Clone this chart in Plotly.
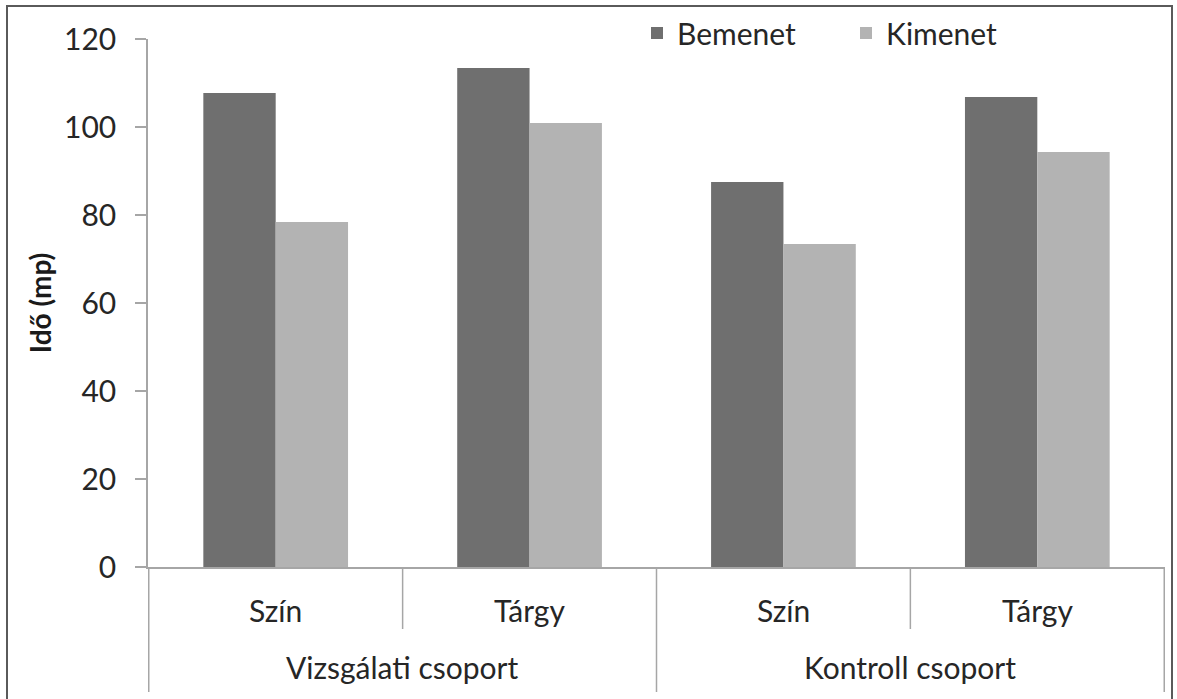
import plotly.graph_objects as go

groups = ["Vizsgálati csoport", "Vizsgálati csoport", "Kontroll csoport", "Kontroll csoport"]
conditions = ["Szín", "Tárgy", "Szín", "Tárgy"]
bemenet = [107.7, 113.4, 87.5, 106.8]
kimenet = [78.4, 100.9, 73.4, 94.3]
y_ticks = [0, 20, 40, 60, 80, 100, 120]
group_names = ["Vizsgálati csoport", "Kontroll csoport"]

FONT = "Lato"
TXT = "#262626"
AX = "#a6a6a6"

fig = go.Figure()
fig.add_trace(go.Bar(name="Bemenet", x=[groups, conditions], y=bemenet,
                     marker=dict(color="#6f6f6f", line=dict(width=0))))
fig.add_trace(go.Bar(name="Kimenet", x=[groups, conditions], y=kimenet,
                     marker=dict(color="#b3b3b3", line=dict(width=0))))

W, H = 1177, 699
L, R, T, B = 148, 12, 39, 132
pw, ph = W - L - R, H - T - B

def px(x):
    return (x - L) / pw

def py(y):
    return (H - B - y) / ph

shapes = []
# inner dividers between conditions within a group
for xi in [0.5, 2.5]:
    shapes.append(dict(type="line", xref="x", yref="paper", x0=xi, x1=xi,
                       y0=0, y1=py(629), line=dict(color=AX, width=1.5)))
# outer dividers between groups (and at both ends)
for xi in [-0.5, 1.5, 3.5]:
    shapes.append(dict(type="line", xref="x", yref="paper", x0=xi, x1=xi,
                       y0=0, y1=py(692), line=dict(color=AX, width=1.5)))
# frame around the figure
shapes.append(dict(type="rect", xref="paper", yref="paper",
                   x0=px(7), x1=px(1172), y0=py(6), y1=py(710),
                   line=dict(color="#5a5a5a", width=2), layer="above"))

annotations = []
for i, c in enumerate(conditions):
    annotations.append(dict(x=i, y=py(610), xref="x", yref="paper", text=c, showarrow=False,
                            xanchor="center", yanchor="middle",
                            font=dict(family=FONT, size=30, color=TXT)))
for i, g in enumerate(group_names):
    annotations.append(dict(x=2 * i + 0.5, y=py(667), xref="x", yref="paper", text=g,
                            showarrow=False, xanchor="center", yanchor="middle",
                            font=dict(family=FONT, size=30, color=TXT)))

fig.update_layout(
    width=W, height=H,
    margin=dict(l=L, r=R, t=T, b=B, autoexpand=False),
    paper_bgcolor="white", plot_bgcolor="white",
    font=dict(family=FONT, size=30, color=TXT),
    barmode="group", bargap=0.43, bargroupgap=0,
    showlegend=True,
    legend=dict(orientation="h", x=px(637), y=py(33), xanchor="left", yanchor="middle",
                font=dict(family=FONT, size=30, color=TXT),
                entrywidth=164, entrywidthmode="pixels", bgcolor="rgba(0,0,0,0)"),
    shapes=shapes,
    annotations=annotations,
    xaxis=dict(type="multicategory", showline=True, linecolor=AX, linewidth=1.5,
               showdividers=False, showticklabels=False,
               ticks="", showgrid=False),
    yaxis=dict(range=[0, 120], tickvals=y_ticks, showline=True, linecolor=AX, linewidth=1.5,
               ticks="outside", ticklen=11, tickcolor=AX, tickwidth=1.5, showgrid=False,
               zeroline=False, ticklabelstandoff=13,
               tickfont=dict(family=FONT, size=30, color=TXT),
               title=dict(text="<b>Idő (mp)</b>", font=dict(family=FONT, size=28, color="#1a1a1a"),
                          standoff=4)),
)

fig.write_html("out.html", config={"displayModeBar": False},
               post_script="document.body.style.margin='0px';")
